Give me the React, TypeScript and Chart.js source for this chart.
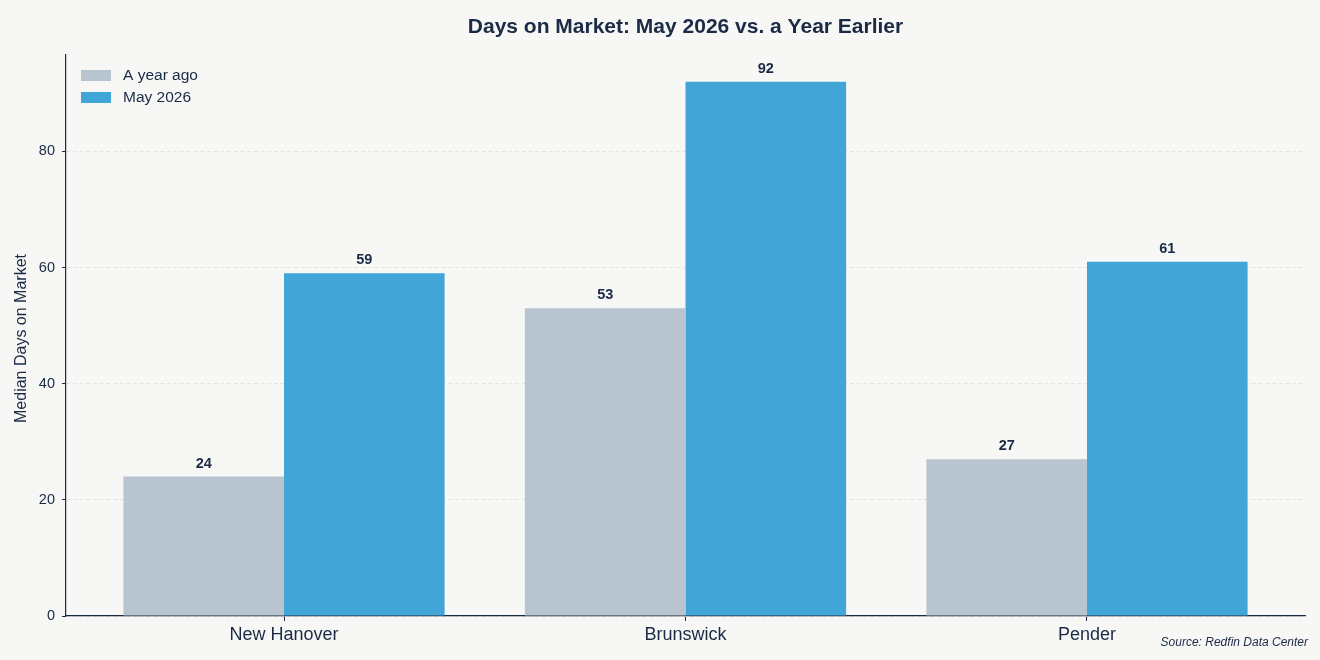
import React, { useEffect, useRef } from "react";
import { Chart, registerables } from "chart.js";

Chart.register(...registerables);

const CATEGORIES = ["New Hanover", "Brunswick", "Pender"];
const YEAR_AGO = [24, 53, 27];
const MAY_2026 = [59, 92, 61];
const SERIES_NAMES = ["A year ago", "May 2026"];
const Y_TICKS = [0, 20, 40, 60, 80];

const TITLE = "Days on Market: May 2026 vs. a Year Earlier";
const Y_TITLE = "Median Days on Market";
const SOURCE = "Source: Redfin Data Center";

const INK = "#1b2a45";
const GRAY = "#b8c4cf";
const BLUE = "#42a5d8";
const BG = "#f7f7f5";
const FONT = "'Liberation Sans', Arial, Helvetica, sans-serif";

const decorPlugin = {
  id: "decor",
  afterDatasetsDraw(chart: any) {
    const { ctx } = chart;
    ctx.save();
    ctx.fillStyle = INK;
    ctx.font = `bold 14.5px ${FONT}`;
    ctx.textAlign = "center";
    ctx.textBaseline = "alphabetic";
    chart.data.datasets.forEach((ds: any, di: number) => {
      const meta = chart.getDatasetMeta(di);
      meta.data.forEach((el: any, i: number) => {
        ctx.fillText(String(ds.data[i].y), el.x, el.y - 9);
      });
    });
    ctx.restore();
  },
  afterDraw(chart: any) {
    const { ctx, chartArea, width } = chart;
    ctx.save();
    // title
    ctx.fillStyle = INK;
    ctx.font = `bold 21px ${FONT}`;
    ctx.textAlign = "center";
    ctx.textBaseline = "alphabetic";
    ctx.fillText(TITLE, (chartArea.left + chartArea.right) / 2, 32.5);
    // y title
    ctx.save();
    ctx.translate(22, (chartArea.top + chartArea.bottom) / 2 + 3);
    ctx.rotate(-Math.PI / 2);
    ctx.textBaseline = "middle";
    ctx.font = `16px ${FONT}`;
    ctx.fillText(Y_TITLE, 0, 0);
    ctx.restore();
    // legend
    const colors = [GRAY, BLUE];
    ctx.font = `15.5px ${FONT}`;
    ctx.textAlign = "left";
    ctx.textBaseline = "middle";
    SERIES_NAMES.forEach((name, i) => {
      const y = 75.5 + i * 22;
      ctx.fillStyle = colors[i];
      ctx.fillRect(chartArea.left + 15, y - 5.5, 30, 11);
      ctx.fillStyle = INK;
      ctx.fillText(name, chartArea.left + 57, y + 0.5);
    });
    // source
    ctx.font = `italic 12px ${FONT}`;
    ctx.textAlign = "right";
    ctx.textBaseline = "middle";
    ctx.fillText(SOURCE, width - 12, 643);
    ctx.restore();
  },
};

export default function App() {
  const ref = useRef<HTMLCanvasElement | null>(null);
  useEffect(() => {
    document.body.style.margin = "0";
    document.body.style.background = BG;
    const chart = new Chart(ref.current as HTMLCanvasElement, {
      type: "bar",
      data: {
        datasets: [
          {
            label: SERIES_NAMES[0],
            data: YEAR_AGO.map((v, i) => ({ x: i, y: v })),
            backgroundColor: GRAY,
            borderWidth: 0,
          },
          {
            label: SERIES_NAMES[1],
            data: MAY_2026.map((v, i) => ({ x: i, y: v })),
            backgroundColor: BLUE,
            borderWidth: 0,
          },
        ],
      },
      options: {
        animation: false,
        responsive: true,
        maintainAspectRatio: false,
        layout: { padding: { top: 55, right: 15, left: 0, bottom: 0 } },
        datasets: { bar: { categoryPercentage: 0.8, barPercentage: 1.0 } },
        plugins: {
          legend: { display: false },
          title: { display: false },
          tooltip: { enabled: false },
        },
        scales: {
          x: {
            type: "linear",
            min: -0.543,
            max: 2.543,
            offset: false,
            afterBuildTicks: (s: any) => {
              s.ticks = CATEGORIES.map((_, i) => ({ value: i }));
            },
            afterFit: (s: any) => {
              s.height = 44;
            },
            ticks: {
              callback: (v: any) => CATEGORIES[v] ?? "",
              color: INK,
              font: { family: FONT, size: 18 },
              padding: 3,
              maxRotation: 0,
              autoSkip: false,
            },
            grid: {
              offset: false,
              drawOnChartArea: false,
              drawTicks: true,
              tickLength: 5,
              tickColor: INK,
              tickWidth: 1,
            },
            border: { display: true, color: INK, width: 1.2 },
          },
          y: {
            min: 0,
            max: 96.6,
            afterBuildTicks: (s: any) => {
              s.ticks = Y_TICKS.map((v) => ({ value: v }));
            },
            afterFit: (s: any) => {
              s.width = 66;
            },
            ticks: {
              color: INK,
              font: { family: FONT, size: 14.5 },
              padding: 7,
            },
            grid: {
              color: "#e2e2df",
              lineWidth: 1,
              drawTicks: true,
              tickLength: 4,
              tickColor: INK,
            },
            border: { display: true, color: INK, width: 1.2, dash: [4, 2.7] },
          },
        },
      },
      plugins: [decorPlugin],
    } as any);
    return () => chart.destroy();
  }, []);
  return (
    <div
      style={{
        position: "fixed",
        left: 0,
        top: 0,
        width: 1320,
        height: 660,
        background: BG,
      }}
    >
      <canvas ref={ref} />
    </div>
  );
}
